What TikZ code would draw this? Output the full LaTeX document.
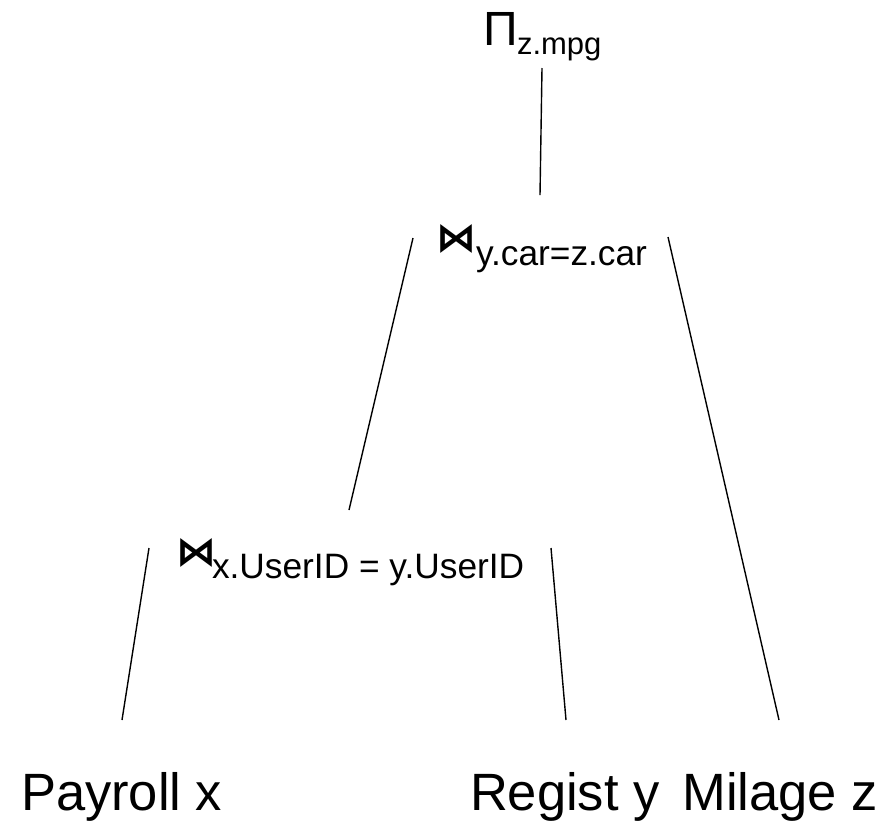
\documentclass[tikz,border=0pt]{standalone}
\usepackage{fontspec}
\setmainfont{Liberation Sans}
\newfontfamily\symfont{DejaVu Sans}

\begin{document}
\begin{tikzpicture}[x=1pt,y=-1pt,
  lbl/.style={inner sep=0pt, outer sep=0pt, anchor=base west},
  bigtxt/.style={font=\fontsize{52.5}{52.5}\selectfont},
  subtxt/.style={font=\fontsize{35.3}{35.3}\selectfont},
  joinsym/.style={font=\symfont\bfseries\fontsize{40}{40}\selectfont},
  edge/.style={line width=1.4pt}]
\useasboundingbox (0,0) rectangle (885,823);

% projection
\node[lbl, font=\fontsize{48}{48}\selectfont] (proj) at (483,45) {Π};
\node[lbl, font=\fontsize{31}{31}\selectfont] (projsub) at (517,54) {z.mpg};

% upper join
\node[lbl, joinsym] (join1) at (436,251) {⋈};
\node[lbl, subtxt] (join1sub) at (476,265) {y.car=z.car};

% lower join
\node[lbl, joinsym] (join2) at (176,565) {⋈};
\node[lbl, subtxt] (join2sub) at (212,578) {x.UserID = y.UserID};

% relations
\node[lbl, bigtxt] (payroll) at (21,810) {Payroll x};
\node[lbl, bigtxt] (regist) at (470,810) {Regist y};
\node[lbl, bigtxt, anchor=base east] (milage) at (878,810) {Milage z};

% edge end points
\coordinate (e1a) at (542,68);  \coordinate (e1b) at (540,195);
\coordinate (e2a) at (413,238); \coordinate (e2b) at (349,510);
\coordinate (e3a) at (668,237); \coordinate (e3b) at (779,720);
\coordinate (e4a) at (149,548); \coordinate (e4b) at (122,720);
\coordinate (e5a) at (551,548); \coordinate (e5b) at (566,720);

\draw[edge] (e1a) -- (e1b);
\draw[edge] (e2a) -- (e2b);
\draw[edge] (e3a) -- (e3b);
\draw[edge] (e4a) -- (e4b);
\draw[edge] (e5a) -- (e5b);
\end{tikzpicture}
\end{document}
